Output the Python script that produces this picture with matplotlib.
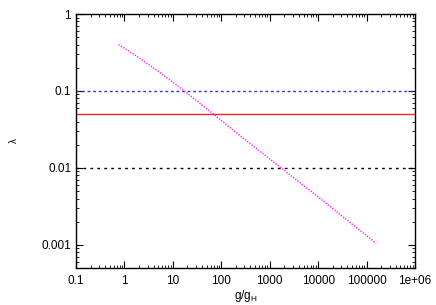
import numpy as np
import matplotlib
matplotlib.use("Agg")
import matplotlib.pyplot as plt
from matplotlib.ticker import LogLocator, FixedLocator, FixedFormatter, NullFormatter

plt.rcParams["font.family"] = ["Liberation Sans", "DejaVu Sans"]

# ----------------------------------
# Data
# ----------------------------------
g_ratio = [0.75, 1, 2, 5, 10, 17.3, 30, 69, 200, 1720, 10000, 100000, 158000]
lam_curve = [0.40, 0.36, 0.27, 0.18, 0.13, 0.10, 0.076, 0.050, 0.029, 0.010,
             0.0042, 0.00132, 0.00105]

lam_blue = 0.1
lam_red = 0.05
lam_black = 0.01

x_ticks = [0.1, 1, 10, 100, 1000, 10000, 100000, 1e6]
x_labels = ["0.1", "1", "10", "100", "1000", "10000", "100000", "1e+06"]
y_ticks = [0.001, 0.01, 0.1, 1]
y_labels = ["0.001", "0.01", "0.1", "1"]

# ----------------------------------
# Plot
# ----------------------------------
fig = plt.figure(figsize=(4.36, 3.05), dpi=100)
ax = fig.add_axes([0.1743, 0.1213, 0.7775, 0.8327])

ax.axhline(lam_blue, color="#3333dd", lw=1.0, linestyle=(0, (2, 2)))
ax.axhline(lam_red, color="#ff2222", lw=1.0)
ax.axhline(lam_black, color="black", lw=1.0, linestyle=(0, (2, 3)))
ax.plot(g_ratio, lam_curve, color="#ff22ff", lw=1.0, linestyle=(0, (1, 1)))

ax.set_xscale("log")
ax.set_yscale("log")
ax.set_xlim(0.1, 1e6)
ax.set_ylim(0.0005, 1)

ax.xaxis.set_major_locator(FixedLocator(x_ticks))
ax.xaxis.set_major_formatter(FixedFormatter(x_labels))
ax.yaxis.set_major_locator(FixedLocator(y_ticks))
ax.yaxis.set_major_formatter(FixedFormatter(y_labels))
ax.xaxis.set_minor_locator(LogLocator(base=10, subs=np.arange(2, 10), numticks=20))
ax.yaxis.set_minor_locator(LogLocator(base=10, subs=np.arange(2, 10), numticks=20))
ax.xaxis.set_minor_formatter(NullFormatter())
ax.yaxis.set_minor_formatter(NullFormatter())

ax.tick_params(which="both", direction="in", top=True, right=True, labelsize=8.5)
ax.tick_params(which="major", length=5, width=0.8)
ax.tick_params(which="minor", length=2.5, width=0.6)
ax.tick_params(axis="x", pad=5)

for s in ax.spines.values():
    s.set_linewidth(1.0)

ax.set_xlabel("g/g$_\\mathregular{H}$", fontsize=8.5, labelpad=0.5)
ax.set_ylabel("λ", fontsize=7, rotation=90, labelpad=16)

fig.savefig("out.png", dpi=100)
